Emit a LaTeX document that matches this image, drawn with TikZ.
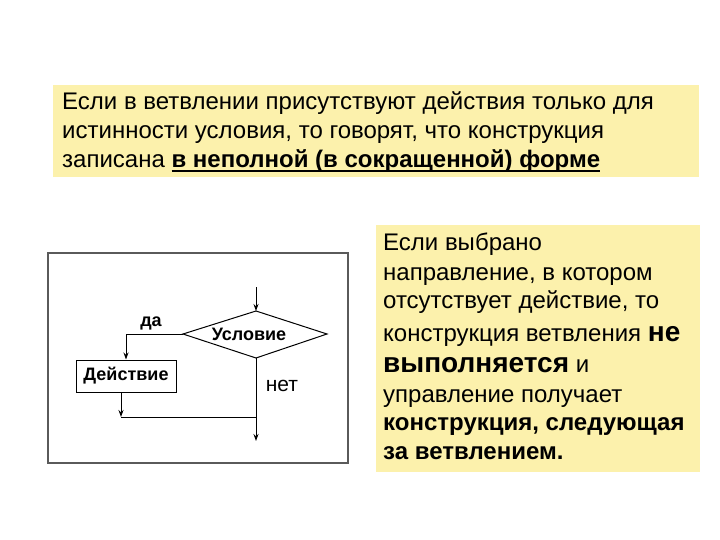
\documentclass[tikz,border=0pt]{standalone}
\usepackage{fontspec}
\setmainfont{Liberation Sans}
\usetikzlibrary{arrows.meta}
\definecolor{boxyellow}{RGB}{252,241,172}
\definecolor{framegray}{RGB}{90,90,90}
\newcommand{\ulphrase}[1]{\setbox0\hbox{#1}\rlap{\raisebox{-4pt}{\rule{\wd0}{1.8pt}}}\box0}
\tikzset{
  txt/.style={anchor=base west, inner sep=0pt, font=\fontsize{24}{28}\selectfont},
  flow/.style={draw=black, line width=1pt},
  arr/.style={flow, -{Stealth[length=7pt,width=5pt]}},
  lbl/.style={inner sep=0pt, font=\fontsize{18}{21}\selectfont\bfseries}
}
\begin{document}
\begin{tikzpicture}[x=1pt,y=-1pt]
\useasboundingbox (0,0) rectangle (720,540);
% top box
\fill[boxyellow] (53,85) rectangle (699,177);
\node[txt] (t1) at (62,110) {Если в ветвлении присутствуют действия только для};
\node[txt] (t2) at (62,139) {истинности условия, то говорят, что конструкция};
\node[txt] (t3) at (62,168) {записана \ulphrase{\bfseries в неполной (в сокращенной) форме}};
% right box
\fill[boxyellow] (376,225) rectangle (700,472);
\node[txt] (r1) at (383,251) {Если выбрано};
\node[txt] (r2) at (383,280) {направление, в котором};
\node[txt] (r3) at (383,308) {отсутствует действие, то};
\node[txt] (r4) at (383,341) {конструкция ветвления {\fontsize{28}{32}\selectfont\bfseries не}};
\node[txt] (r5) at (383,372) {{\fontsize{28}{32}\selectfont\bfseries выполняется} и};
\node[txt] (r6) at (383,402) {управление получает};
\node[txt] (r7) at (383,430) {\bfseries конструкция, следующая};
\node[txt] (r8) at (383,459) {\bfseries за ветвлением.};
% flowchart frame
\draw[framegray, line width=1.5pt] (48,253) rectangle (348,463);
% diamond
\coordinate (dl) at (183,334);
\coordinate (dr) at (327,334);
\coordinate (dt) at (256,311);
\coordinate (db) at (256,358);
\draw[flow] (dl) -- (dt) -- (dr) -- (db) -- cycle;
\node[lbl] (cond) at (249,334) {Условие};
\coordinate (in) at (256,287);
\draw[arr] (in) -- (dt);
% action box
\node[flow, minimum width=100pt, minimum height=32pt, inner sep=0pt, font=\fontsize{18}{21}\selectfont\bfseries] (act) at (126,376) {Действие};
\coordinate (yc) at (126,334);
\draw[arr] (dl) -- (yc) -- (act.north);
\node[lbl] (yes) at (151,323) {да};
\coordinate (ab) at (121,392);
\coordinate (aj) at (121,417);
\coordinate (nj) at (256,417);
\coordinate (out) at (256,441);
\draw[arr] (ab) -- (aj);
\draw[flow] (aj) -- (nj);
\draw[arr] (db) -- (out);
\node[inner sep=0pt, font=\fontsize{21}{25}\selectfont] (no) at (282,386) {нет};
\end{tikzpicture}
\end{document}
